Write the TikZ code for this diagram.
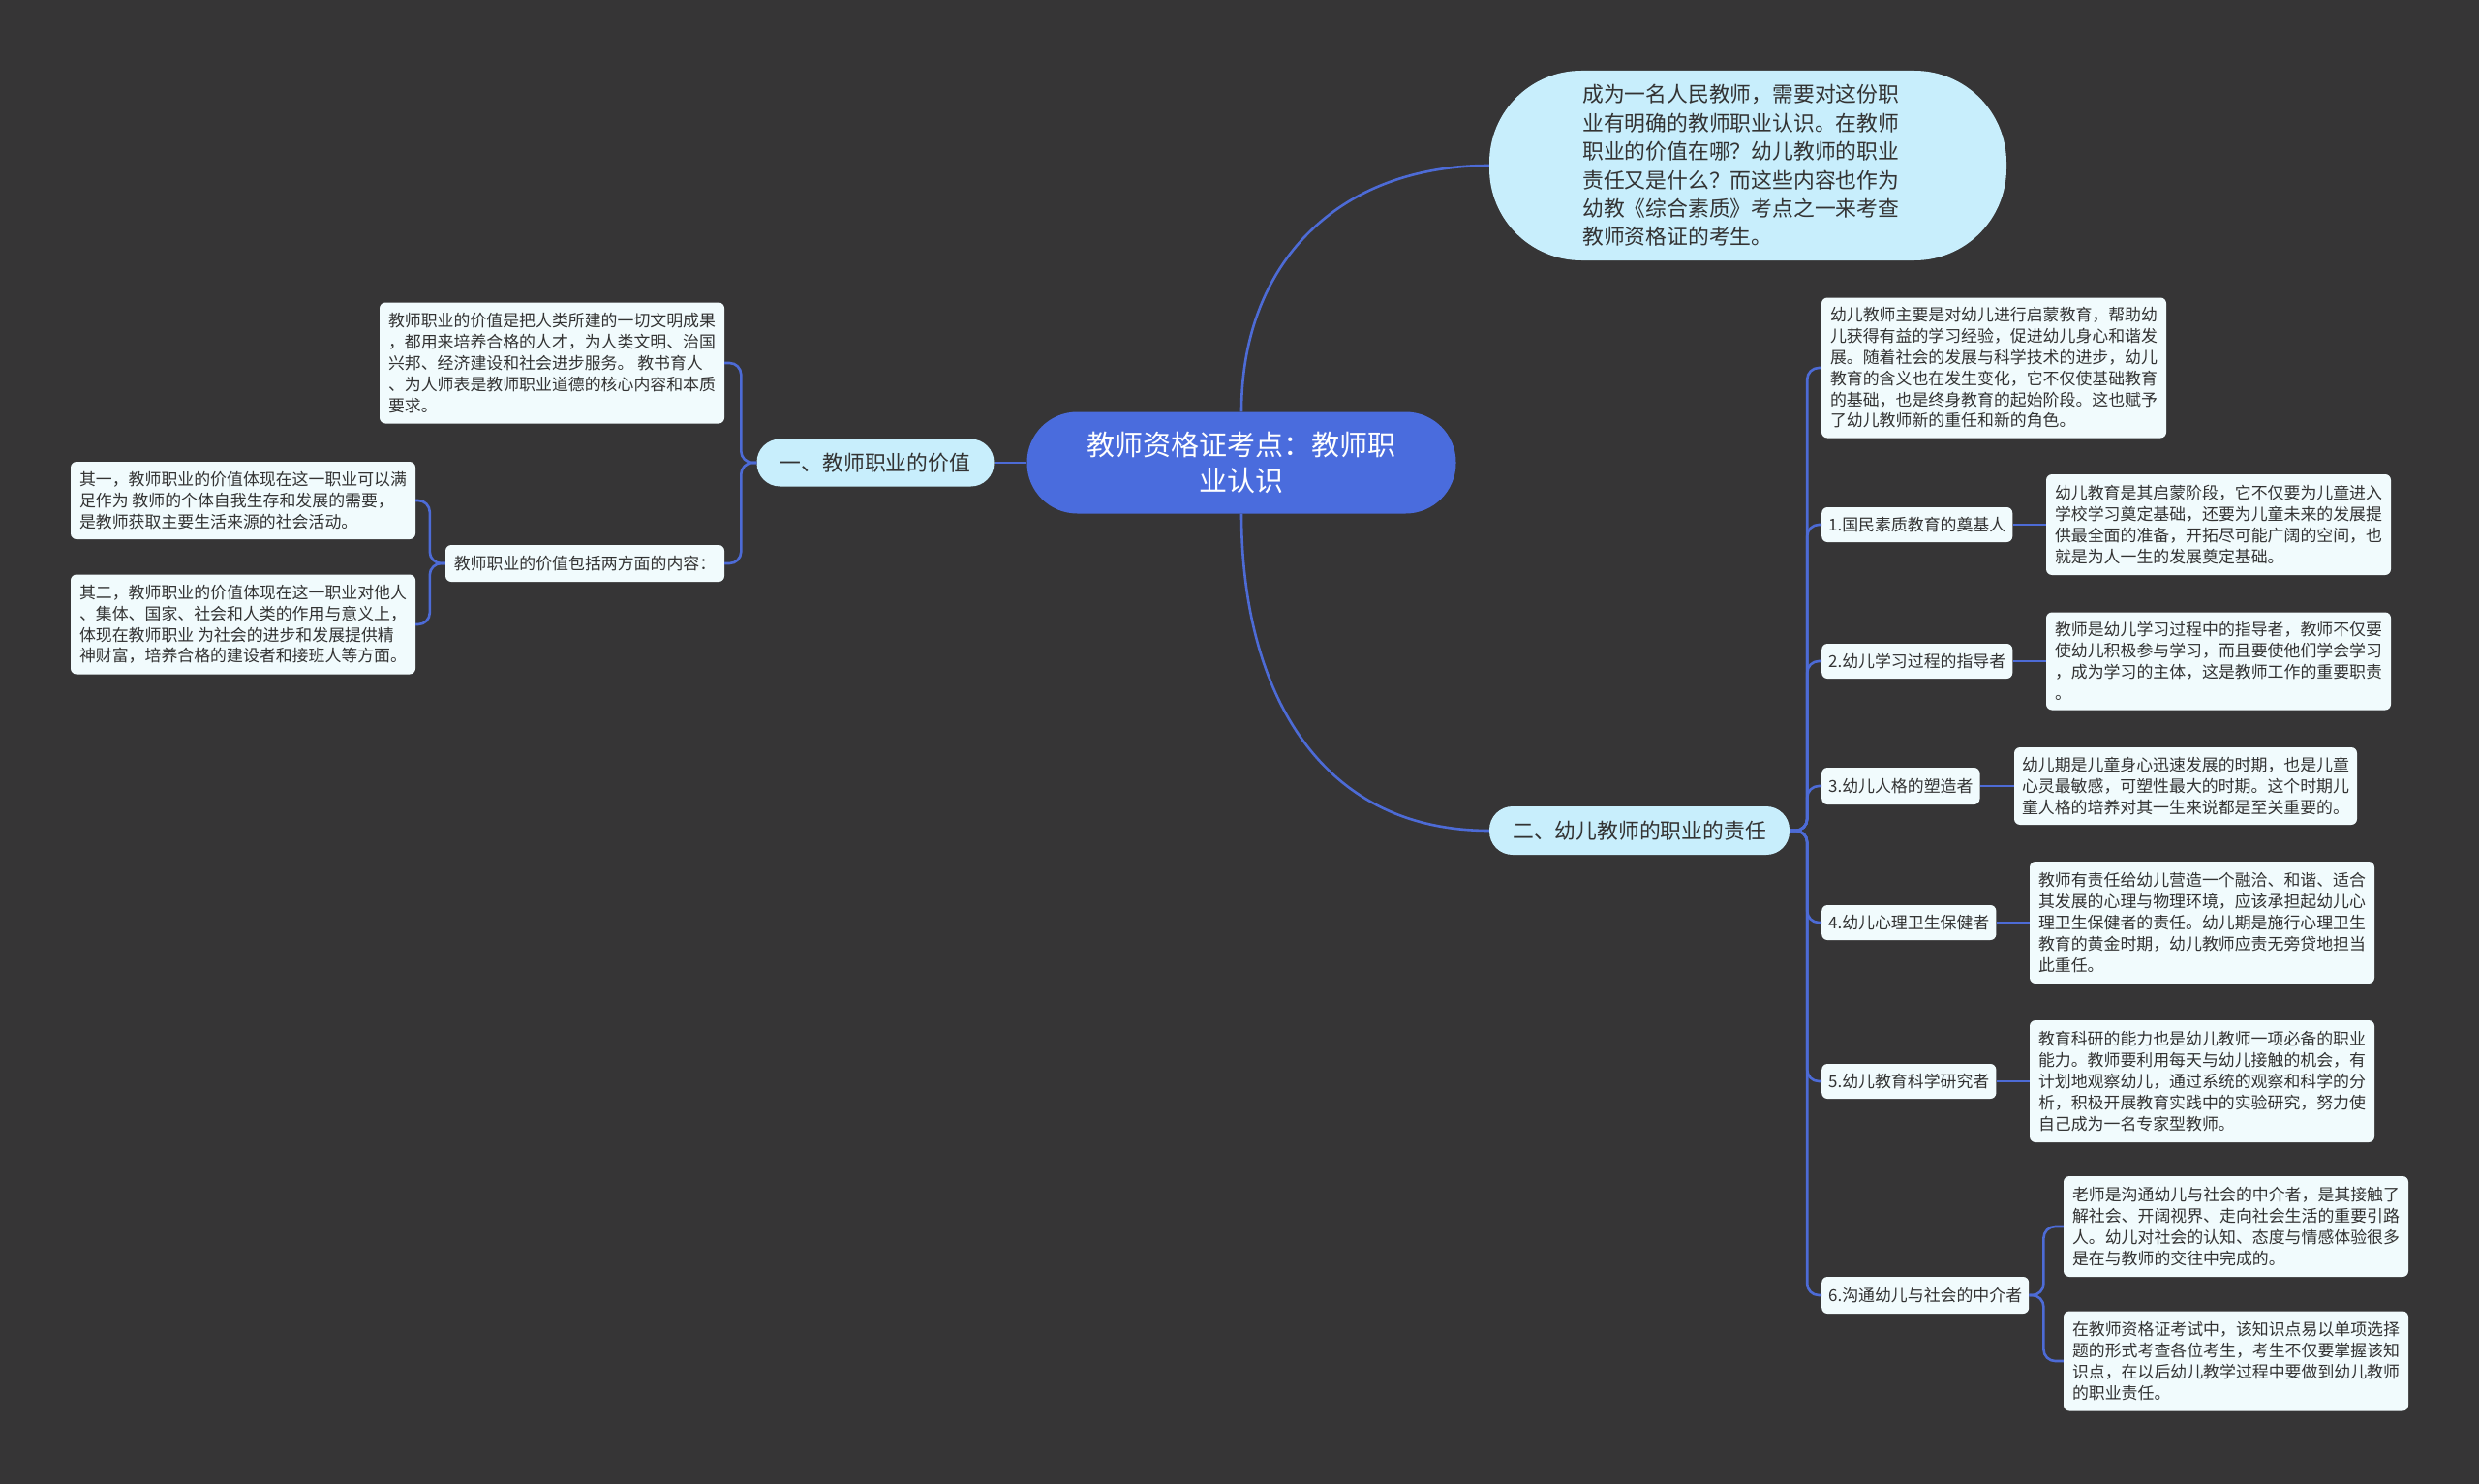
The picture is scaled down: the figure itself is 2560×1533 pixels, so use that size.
\documentclass[tikz,border=0pt]{standalone}
\usepackage{fontspec}
\setmainfont{Noto Sans CJK SC}
\definecolor{bg}{HTML}{363536}
\definecolor{rootc}{HTML}{4A6CDD}
\definecolor{linkc}{HTML}{4D6BD6}
\definecolor{bubc}{HTML}{C8EEFC}
\definecolor{boxc}{HTML}{F1FBFD}
\definecolor{txt}{HTML}{333333}
\tikzset{
  root/.style={fill=rootc, text=white, rounded corners=52pt, align=center,
    font=\fontsize{29}{37}\selectfont, minimum width=443pt, minimum height=105pt, inner sep=0pt},
  bubble/.style={fill=bubc, text=txt, align=left, inner sep=0pt,
    font=\fontsize{21.8}{29.4}\selectfont},
  branch/.style={fill=bubc, text=txt, rounded corners=24pt, align=center, inner sep=0pt,
    font=\fontsize{21.8}{26}\selectfont},
  card/.style={fill=boxc, text=txt, rounded corners=6pt, align=left, inner xsep=8pt, inner ysep=4pt,
    font=\fontsize{16.9}{21.8}\selectfont, minimum width=356pt},
  leaf/.style={fill=boxc, text=txt, rounded corners=6pt, align=left, inner xsep=7pt, inner ysep=4pt,
    font=\fontsize{16.9}{21.8}\selectfont, minimum height=36pt},
  link/.style={draw=linkc, line width=2.6pt, rounded corners=12pt},
}
\begin{document}
\begin{tikzpicture}[x=1pt,y=-1pt]
\useasboundingbox (0,0) rectangle (2560,1533);
\fill[bg] (0,0) rectangle (2560,1533);

% root
\node[root] (c) at (1282,478) {教师资格证考点：教师职\\业认识};

% intro bubble
\node[bubble, minimum width=534pt, minimum height=196pt, rounded corners=95pt] (intro) at (1805,171) {};
\node[bubble, anchor=west, fill=none] (introtxt) at (1634,171) {成为一名人民教师，需要对这份职\\业有明确的教师职业认识。在教师\\职业的价值在哪？幼儿教师的职业\\责任又是什么？而这些内容也作为\\幼教《综合素质》考点之一来考查\\教师资格证的考生。};

% branches
\node[branch, minimum width=245pt, minimum height=49pt] (b1) at (904,478) {一、教师职业的价值};
\node[branch, minimum width=310pt, minimum height=50pt] (b2) at (1693,858) {二、幼儿教师的职业的责任};

% left side
\node[card, minimum height=125pt] (lt) at (570,375) {教师职业的价值是把人类所建的一切文明成果\\，都用来培养合格的人才，为人类文明、治国\\兴邦、经济建设和社会进步服务。 教书育人\\、为人师表是教师职业道德的核心内容和本质\\要求。};
\node[card, minimum width=288pt, minimum height=38pt] (inc) at (604,582) {教师职业的价值包括两方面的内容：};
\node[card, minimum height=80pt] (q1) at (251,517) {其一，教师职业的价值体现在这一职业可以满\\足作为 教师的个体自我生存和发展的需要，\\是教师获取主要生活来源的社会活动。};
\node[card, minimum height=103pt] (q2) at (251,645) {其二，教师职业的价值体现在这一职业对他人\\、集体、国家、社会和人类的作用与意义上，\\体现在教师职业 为社会的进步和发展提供精\\神财富，培养合格的建设者和接班人等方面。};

% right side
\node[card, minimum height=145pt] (rt) at (2059,380) {幼儿教师主要是对幼儿进行启蒙教育，帮助幼\\儿获得有益的学习经验，促进幼儿身心和谐发\\展。随着社会的发展与科学技术的进步，幼儿\\教育的含义也在发生变化，它不仅使基础教育\\的基础，也是终身教育的起始阶段。这也赋予\\了幼儿教师新的重任和新的角色。};

\node[leaf, anchor=west] (n1) at (1881,542) {1.国民素质教育的奠基人};
\node[card, minimum height=104pt] (d1) at (2291,542) {幼儿教育是其启蒙阶段，它不仅要为儿童进入\\学校学习奠定基础，还要为儿童未来的发展提\\供最全面的准备，开拓尽可能广阔的空间，也\\就是为人一生的发展奠定基础。};

\node[leaf, anchor=west] (n2) at (1881,683) {2.幼儿学习过程的指导者};
\node[card, minimum height=101pt] (d2) at (2291,683) {教师是幼儿学习过程中的指导者，教师不仅要\\使幼儿积极参与学习，而且要使他们学会学习\\，成为学习的主体，这是教师工作的重要职责\\。};

\node[leaf, anchor=west, minimum height=38pt] (n3) at (1881,812) {3.幼儿人格的塑造者};
\node[card, minimum width=354pt, minimum height=80pt] (d3) at (2257,812) {幼儿期是儿童身心迅速发展的时期，也是儿童\\心灵最敏感，可塑性最大的时期。这个时期儿\\童人格的培养对其一生来说都是至关重要的。};

\node[leaf, anchor=west] (n4) at (1881,953) {4.幼儿心理卫生保健者};
\node[card, minimum height=126pt] (d4) at (2274,953) {教师有责任给幼儿营造一个融洽、和谐、适合\\其发展的心理与物理环境，应该承担起幼儿心\\理卫生保健者的责任。幼儿期是施行心理卫生\\教育的黄金时期，幼儿教师应责无旁贷地担当\\此重任。};

\node[leaf, anchor=west] (n5) at (1881,1117) {5.幼儿教育科学研究者};
\node[card, minimum height=126pt] (d5) at (2274,1117) {教育科研的能力也是幼儿教师一项必备的职业\\能力。教师要利用每天与幼儿接触的机会，有\\计划地观察幼儿，通过系统的观察和科学的分\\析，积极开展教育实践中的实验研究，努力使\\自己成为一名专家型教师。};

\node[leaf, anchor=west, minimum height=38pt] (n6) at (1881,1338) {6.沟通幼儿与社会的中介者};
\node[card, minimum height=104pt] (d6a) at (2309,1267) {老师是沟通幼儿与社会的中介者，是其接触了\\解社会、开阔视界、走向社会生活的重要引路\\人。幼儿对社会的认知、态度与情感体验很多\\是在与教师的交往中完成的。};
\node[card, minimum height=103pt] (d6b) at (2309,1406) {在教师资格证考试中，该知识点易以单项选择\\题的形式考查各位考生，考生不仅要掌握该知\\识点，在以后幼儿教学过程中要做到幼儿教师\\的职业责任。};

% connectors
\begin{scope}[on background layer/.style={}]
\draw[link] (c.north) to[out=90,in=180,looseness=1.1] (intro.west);
\draw[link] (c.south) to[out=-90,in=180,looseness=1.1] (b2.west);
\draw[link] (c.west) -- (b1.east);

\draw[link] (b1.west) -- ++(-16,0) |- (lt.east);
\draw[link] (b1.west) -- ++(-16,0) |- (inc.east);
\draw[link] (inc.west) -- ++(-16,0) |- (q1.east);
\draw[link] (inc.west) -- ++(-16,0) |- (q2.east);

\draw[link] (b2.east) -- ++(18,0) |- (rt.west);
\draw[link] (b2.east) -- ++(18,0) |- (n1.west);
\draw[link] (b2.east) -- ++(18,0) |- (n2.west);
\draw[link] (b2.east) -- ++(18,0) |- (n3.west);
\draw[link] (b2.east) -- ++(18,0) |- (n4.west);
\draw[link] (b2.east) -- ++(18,0) |- (n5.west);
\draw[link] (b2.east) -- ++(18,0) |- (n6.west);

\draw[link] (n1.east) -- (d1.west);
\draw[link] (n2.east) -- (d2.west);
\draw[link] (n3.east) -- (d3.west);
\draw[link] (n4.east) -- (d4.west);
\draw[link] (n5.east) -- (d5.west);
\draw[link] (n6.east) -- ++(15,0) |- (d6a.west);
\draw[link] (n6.east) -- ++(15,0) |- (d6b.west);
\end{scope}
\end{tikzpicture}
\end{document}
